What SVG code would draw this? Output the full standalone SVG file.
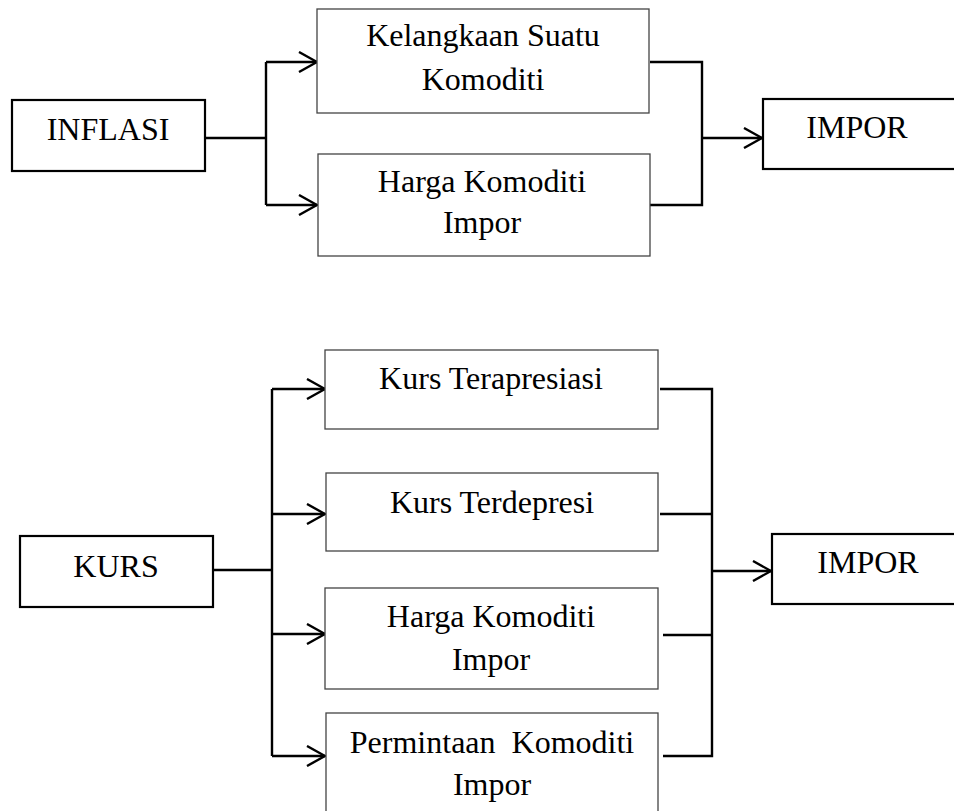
<svg xmlns="http://www.w3.org/2000/svg" width="954" height="811" viewBox="0 0 954 811">
<defs>
<style>
.bold{fill:#fff;stroke:#000;stroke-width:2.2}
.thin{fill:#fff;stroke:#444;stroke-width:1.3}
.t{font-family:"Liberation Serif","Times New Roman",serif;font-size:32px;fill:#000;text-anchor:middle}
.c{fill:none;stroke:#000;stroke-width:2.4}
</style>
<marker id="arr" viewBox="0 0 20 22" refX="19" refY="11" markerWidth="20" markerHeight="22" orient="auto" markerUnits="userSpaceOnUse">
<path d="M1,1 L19,11 L1,21" fill="none" stroke="#000" stroke-width="2.4"/>
</marker>
</defs>
<rect width="954" height="811" fill="#fff"/>

<g id="connectors">
<path class="c" d="M205,138 H266"/>
<path class="c" d="M266,62 V205"/>
<path class="c" d="M266,62 H317" marker-end="url(#arr)"/>
<path class="c" d="M266,205 H317" marker-end="url(#arr)"/>
<path class="c" d="M650,62 H702 V205 H650"/>
<path class="c" d="M702,138 H762" marker-end="url(#arr)"/>
<path class="c" d="M213,570 H272"/>
<path class="c" d="M272,389 V756"/>
<path class="c" d="M272,389 H325" marker-end="url(#arr)"/>
<path class="c" d="M272,514 H325" marker-end="url(#arr)"/>
<path class="c" d="M272,634 H325" marker-end="url(#arr)"/>
<path class="c" d="M272,756 H325" marker-end="url(#arr)"/>
<path class="c" d="M660,389 H712 V756 H663"/>
<path class="c" d="M660,514 H712"/>
<path class="c" d="M663,635 H713"/>
<path class="c" d="M712,571 H771" marker-end="url(#arr)"/>
</g>

<g id="inflasi">
<rect class="bold" x="12" y="100" width="193" height="71"/>
<text class="t" x="108" y="140">INFLASI</text>
</g>
<g id="kelangkaan">
<rect class="thin" x="317" y="9" width="332" height="104"/>
<text class="t" x="483" y="46">Kelangkaan Suatu</text>
<text class="t" x="483" y="90">Komoditi</text>
</g>
<g id="harga1">
<rect class="thin" x="318" y="154" width="332" height="102"/>
<text class="t" x="482" y="192">Harga Komoditi</text>
<text class="t" x="482" y="233">Impor</text>
</g>
<g id="impor1">
<rect class="bold" x="763" y="99" width="200" height="70"/>
<text class="t" x="857" y="138">IMPOR</text>
</g>

<g id="kurs">
<rect class="bold" x="20" y="536" width="193" height="71"/>
<text class="t" x="116" y="577">KURS</text>
</g>
<g id="terapresiasi">
<rect class="thin" x="325" y="350" width="333" height="79"/>
<text class="t" x="491" y="389">Kurs Terapresiasi</text>
</g>
<g id="terdepresi">
<rect class="thin" x="326" y="473" width="332" height="78"/>
<text class="t" x="492" y="513">Kurs Terdepresi</text>
</g>
<g id="harga2">
<rect class="thin" x="325" y="588" width="333" height="101"/>
<text class="t" x="491" y="627">Harga Komoditi</text>
<text class="t" x="491" y="670">Impor</text>
</g>
<g id="permintaan">
<rect class="thin" x="326" y="713" width="332" height="110"/>
<text class="t" x="492" y="753" xml:space="preserve">Permintaan  Komoditi</text>
<text class="t" x="492" y="795">Impor</text>
</g>
<g id="impor2">
<rect class="bold" x="772" y="534" width="192" height="70"/>
<text class="t" x="868" y="573">IMPOR</text>
</g>
</svg>
